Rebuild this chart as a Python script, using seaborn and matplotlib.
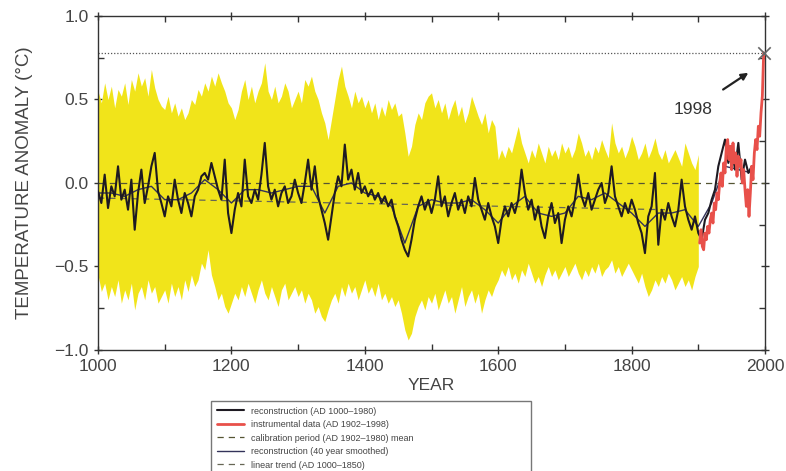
import matplotlib
matplotlib.use("Agg")
import matplotlib.pyplot as plt
import seaborn as sns
from matplotlib.ticker import MultipleLocator

# uncertainty band (yellow), read every 5 years, 1000-1900
band_years = list(range(1000, 1901, 5))
band_upper = [
    0.55, 0.48, 0.60, 0.50, 0.58, 0.45, 0.56, 0.52, 0.60, 0.47, 0.62, 0.55, 0.66, 0.58, 0.63, 0.52, 0.68, 0.57, 0.50, 0.46,
    0.44, 0.52, 0.42, 0.48, 0.40, 0.45, 0.38, 0.42, 0.50, 0.47, 0.56, 0.52, 0.60, 0.55, 0.64, 0.58, 0.66, 0.60, 0.55, 0.48,
    0.45, 0.38, 0.44, 0.55, 0.62, 0.50, 0.58, 0.48, 0.55, 0.60, 0.72, 0.55, 0.50, 0.58, 0.48, 0.52, 0.60, 0.55, 0.45, 0.50,
    0.55, 0.48, 0.62, 0.58, 0.64, 0.55, 0.50, 0.42, 0.36, 0.26, 0.38, 0.50, 0.62, 0.70, 0.58, 0.52, 0.45, 0.55, 0.48, 0.52,
    0.45, 0.50, 0.42, 0.48, 0.38, 0.46, 0.40, 0.50, 0.44, 0.48, 0.40, 0.42, 0.30, 0.16, 0.22, 0.35, 0.42, 0.38, 0.48, 0.52,
    0.54, 0.45, 0.50, 0.42, 0.48, 0.38, 0.45, 0.50, 0.40, 0.46, 0.36, 0.42, 0.52, 0.46, 0.40, 0.35, 0.42, 0.30, 0.38, 0.34,
    0.14, 0.20, 0.15, 0.22, 0.18, 0.26, 0.34, 0.24, 0.18, 0.12, 0.20, 0.15, 0.24, 0.18, 0.12, 0.22, 0.16, 0.20, 0.14, 0.24,
    0.18, 0.22, 0.15, 0.20, 0.30, 0.24, 0.16, 0.20, 0.14, 0.22, 0.18, 0.26, 0.20, 0.15, 0.36, 0.24, 0.18, 0.22, 0.15, 0.20,
    0.28, 0.22, 0.14, 0.18, 0.24, 0.15, 0.20, 0.27, 0.18, 0.14, 0.20, 0.12, 0.16, 0.20, 0.15, 0.10, 0.24, 0.18, 0.12, 0.08,
    0.17,
]
band_lower = [
    -0.55, -0.65, -0.60, -0.70, -0.62, -0.68, -0.58, -0.72, -0.64, -0.70, -0.60, -0.76, -0.66, -0.62, -0.70, -0.58, -0.66, -0.62, -0.72, -0.68,
    -0.64, -0.72, -0.60, -0.68, -0.62, -0.70, -0.58, -0.65, -0.55, -0.62, -0.58, -0.48, -0.52, -0.40, -0.55, -0.62, -0.70, -0.66, -0.74, -0.78,
    -0.72, -0.66, -0.70, -0.62, -0.68, -0.60, -0.66, -0.72, -0.64, -0.58, -0.66, -0.70, -0.62, -0.68, -0.74, -0.64, -0.60, -0.70, -0.66, -0.62,
    -0.68, -0.64, -0.72, -0.66, -0.70, -0.78, -0.74, -0.80, -0.83, -0.76, -0.70, -0.66, -0.72, -0.62, -0.68, -0.60, -0.66, -0.62, -0.70, -0.64,
    -0.58, -0.66, -0.62, -0.68, -0.60, -0.70, -0.66, -0.72, -0.68, -0.74, -0.70, -0.78, -0.88, -0.94, -0.90, -0.80, -0.74, -0.70, -0.76, -0.68,
    -0.72, -0.66, -0.76, -0.70, -0.64, -0.72, -0.68, -0.78, -0.70, -0.62, -0.74, -0.68, -0.64, -0.72, -0.66, -0.78, -0.70, -0.64, -0.68, -0.62,
    -0.58, -0.52, -0.56, -0.50, -0.58, -0.54, -0.60, -0.52, -0.56, -0.48, -0.54, -0.60, -0.56, -0.62, -0.55, -0.50, -0.56, -0.52, -0.58, -0.54,
    -0.50, -0.56, -0.52, -0.48, -0.54, -0.58, -0.52, -0.56, -0.50, -0.54, -0.48, -0.56, -0.52, -0.50, -0.46, -0.54, -0.50, -0.56, -0.52, -0.48,
    -0.52, -0.56, -0.60, -0.54, -0.62, -0.68, -0.64, -0.58, -0.62, -0.56, -0.60, -0.54, -0.58, -0.64, -0.60, -0.56, -0.62, -0.58, -0.64, -0.56,
    -0.50,
]

# reconstruction (AD 1000-1980), every 5 years
recon_years = list(range(1000, 1981, 5))
recon_values = [
    -0.05, -0.12, 0.05, -0.15, -0.02, -0.08, 0.10, -0.10, -0.04, -0.16, 0.02, -0.28, -0.06, 0.08, -0.12, -0.02, 0.10, 0.18, -0.05, -0.12,
    -0.20, -0.08, -0.14, 0.02, -0.10, -0.18, -0.06, -0.12, -0.20, -0.08, -0.04, 0.04, 0.06, 0.02, 0.12, 0.04, -0.04, -0.10, 0.14, -0.18,
    -0.30, -0.16, -0.06, -0.14, 0.14, -0.08, -0.12, -0.04, -0.10, 0.05, 0.24, -0.02, -0.10, -0.04, -0.14, -0.06, -0.02, -0.12, -0.08, 0.02,
    -0.06, -0.12, 0.00, 0.14, -0.04, 0.10, -0.08, -0.16, -0.24, -0.34, -0.20, -0.06, 0.04, -0.02, 0.23, 0.02, 0.08, -0.04, 0.06, -0.06,
    -0.02, -0.08, -0.04, -0.10, -0.06, -0.12, -0.08, -0.14, -0.10, -0.20, -0.26, -0.34, -0.40, -0.44, -0.34, -0.22, -0.14, -0.08, -0.16, -0.10,
    -0.18, -0.10, 0.04, -0.14, -0.08, -0.20, -0.12, -0.06, -0.16, -0.10, -0.18, -0.08, -0.14, 0.03, -0.10, -0.16, -0.22, -0.12, -0.20, -0.26,
    -0.36, -0.22, -0.14, -0.20, -0.12, -0.18, -0.10, 0.08, -0.06, -0.16, -0.10, -0.22, -0.14, -0.26, -0.33, -0.20, -0.12, -0.24, -0.18, -0.36,
    -0.22, -0.14, -0.20, -0.10, 0.05, -0.08, -0.14, -0.06, -0.16, -0.10, -0.04, 0.00, -0.12, -0.06, 0.10, -0.08, -0.14, -0.20, -0.12, -0.18,
    -0.10, -0.16, -0.24, -0.30, -0.42, -0.20, -0.14, 0.06, -0.37, -0.16, -0.22, -0.12, -0.20, -0.26, -0.16, 0.02, -0.14, -0.22, -0.28, -0.20,
    -0.30, -0.34, -0.22, -0.18, -0.10, -0.04, 0.10, 0.18, 0.26, 0.12, 0.20, 0.08, 0.24, 0.02, 0.14, 0.06, 0.10,
]

# instrumental data (AD 1902-1998), every 2 years
instr_years = list(range(1902, 1999, 2))
instr_values = [
    -0.36, -0.28, -0.38, -0.40, -0.30, -0.34, -0.26, -0.30, -0.22, -0.18, -0.24, -0.12, -0.16, -0.06, -0.10, 0.00,
    0.06, -0.02, 0.12, 0.06, 0.22, 0.26, 0.14, 0.22, 0.08, 0.24, 0.12, 0.18, 0.04, 0.16, 0.10, 0.14,
    0.00, 0.08, -0.04, -0.14, -0.04, -0.20, -0.06, 0.10, 0.02, 0.18, 0.26, 0.20, 0.34, 0.28, 0.42, 0.52,
    0.78,
]

# reconstruction (40 year smoothed), every 20 years
smooth_years = list(range(1000, 1981, 20))
smooth_values = [
    -0.06, -0.06, -0.08, -0.04, -0.02, -0.10, -0.10, -0.06, 0.02, -0.04,
    -0.12, -0.04, -0.04, -0.06, -0.04, -0.02, -0.02, -0.18, -0.02, 0.00,
    -0.06, -0.08, -0.14, -0.36, -0.14, -0.10, -0.12, -0.12, -0.10, -0.16,
    -0.24, -0.14, -0.08, -0.18, -0.20, -0.18, -0.08, -0.10, -0.06, -0.12,
    -0.18, -0.26, -0.18, -0.18, -0.16, -0.26, -0.12, 0.10, 0.08, 0.06,
]

trend_years = [1000, 1850]
trend_values = [-0.09, -0.16]
calib_mean = 0.0
peak_year = 1998
peak_value = 0.78

labels = [
    "reconstruction (AD 1000\u20131980)",
    "instrumental data (AD 1902\u20131998)",
    "calibration period (AD 1902\u20131980) mean",
    "reconstruction (40 year smoothed)",
    "linear trend (AD 1000\u20131850)",
]

sns.set_style("ticks")
plt.rcParams["font.family"] = ["Liberation Sans", "DejaVu Sans"]

fig = plt.figure(figsize=(7.86, 4.71), dpi=100)
ax = fig.add_axes([0.1247, 0.257, 0.8486, 0.709])

ax.fill_between(band_years, band_lower, band_upper, color="#f1e41a", lw=0, zorder=1)

ax.axhline(calib_mean, color="#555533", lw=0.9, ls=(0, (5, 4)), zorder=2, label=labels[2])
sns.lineplot(x=trend_years, y=trend_values, ax=ax, color="#666655", lw=0.9,
             linestyle=(0, (5, 4)), zorder=2, label=labels[4])
ax.plot([1000, peak_year], [peak_value, peak_value], color="#555555", lw=0.9,
        ls=(0, (1, 1.5)), zorder=2)

sns.lineplot(x=smooth_years, y=smooth_values, ax=ax, color="#33335a", lw=1.0,
             zorder=3, label=labels[3])
sns.lineplot(x=recon_years, y=recon_values, ax=ax, color="#1e1a22", lw=1.5,
             zorder=4, label=labels[0])
sns.lineplot(x=instr_years, y=instr_values, ax=ax, color="#e8504a", lw=2.0,
             zorder=5, label=labels[1])

ax.scatter([peak_year], [peak_value], marker="x", s=80, color="#666666",
           linewidths=1.2, zorder=6, clip_on=False)
ax.annotate("1998", xy=(1975, 0.66), xytext=(1892, 0.44), fontsize=12.5,
            color="#333333", ha="center", va="center",
            arrowprops=dict(arrowstyle="-|>", color="#222222", lw=1.6,
                            mutation_scale=10, shrinkA=12, shrinkB=0))

ax.set_xlim(1000, 2000)
ax.set_ylim(-1.0, 1.0)
ax.xaxis.set_major_locator(MultipleLocator(200))
ax.xaxis.set_minor_locator(MultipleLocator(100))
ax.yaxis.set_major_locator(MultipleLocator(0.5))
ax.yaxis.set_minor_locator(MultipleLocator(0.25))
ax.tick_params(which="both", top=True, right=True, colors="#333333",
               labelcolor="#444444", labelsize=12.5)
ax.tick_params(which="major", direction="inout", length=6, width=1)
ax.tick_params(which="minor", direction="in", length=4, width=1)
for s in ax.spines.values():
    s.set_color("#333333")
    s.set_linewidth(1.0)

ax.set_xlabel("YEAR", fontsize=12.5, color="#444444", labelpad=3)
ax.set_ylabel("TEMPERATURE ANOMALY (\u00b0C)", fontsize=13.5, color="#444444")
ax.yaxis.set_label_coords(-0.097, 0.5)

handles, labs = ax.get_legend_handles_labels()
order = [labs.index(l) for l in labels]
leg = fig.legend([handles[i] for i in order], labels, loc="upper left",
                 bbox_to_anchor=(0.263, 0.0, 0.418, 0.158), mode="expand",
                 fontsize=6.5, labelspacing=0.5, handlelength=3.0,
                 borderpad=0.6, frameon=True, fancybox=False, framealpha=1,
                 edgecolor="#777777")
leg.get_frame().set_linewidth(1.0)
for t in leg.get_texts():
    t.set_color("#444444")
if ax.get_legend() is not None:
    ax.get_legend().remove()

fig.savefig("out.png", dpi=100)
